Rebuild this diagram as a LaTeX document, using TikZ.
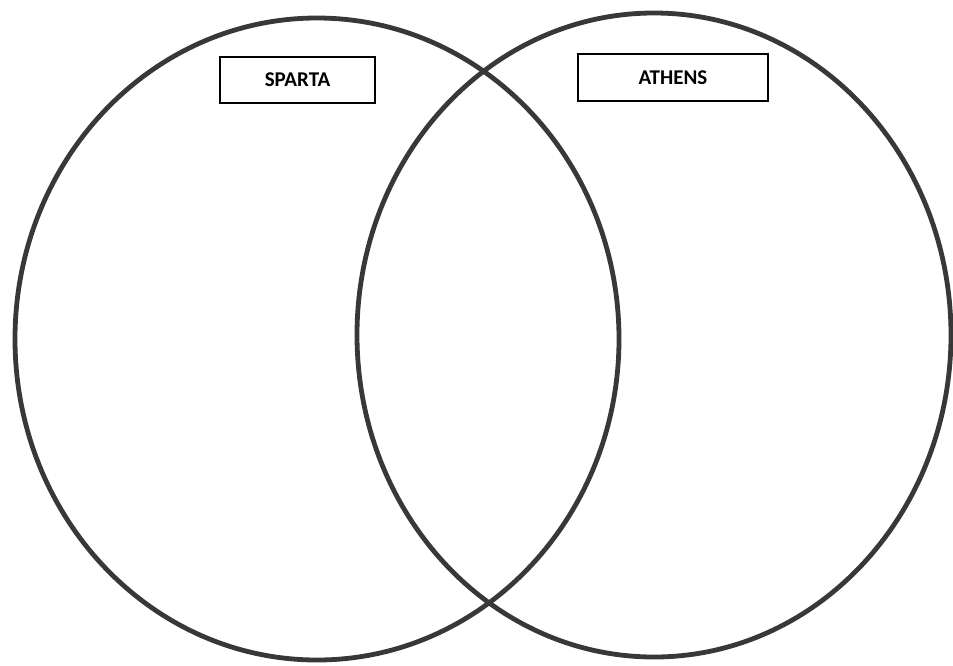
\documentclass[tikz,border=0pt]{standalone}
\usepackage{fontspec}
\setmainfont{Carlito}
\usepackage{xcolor}
\usepackage{tikz}
\usetikzlibrary{positioning}

\begin{document}
\begin{tikzpicture}[x=1pt, y=-1pt,
  ring/.style={line width=4.8pt, black!78},
  labelbox/.style={draw, line width=1.6pt, inner sep=0pt,
    minimum height=46pt, font=\fontsize{21}{24}\selectfont\bfseries}]
  % 画布
  \useasboundingbox (0,0) rectangle (953,665);
  % 左圆
  \draw[ring] (317,339) ellipse [x radius=302, y radius=321];
  % 右圆
  \draw[ring] (654,335) ellipse [x radius=297, y radius=322];
  % 标题框
  \node[labelbox, minimum width=155pt] (sparta) at (297.5,80) {SPARTA};
  \node[labelbox, minimum width=190pt, minimum height=47pt] (athens) at (673,77.5) {ATHENS};
\end{tikzpicture}
\end{document}
